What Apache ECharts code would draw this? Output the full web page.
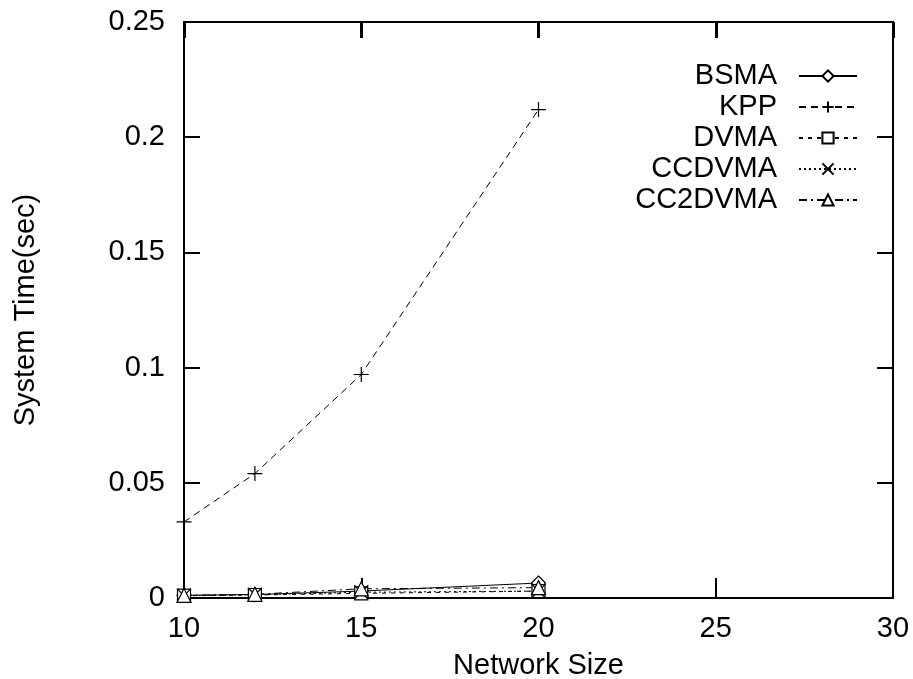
<!DOCTYPE html>
<html><head><meta charset="utf-8">
<script src="https://cdn.jsdelivr.net/npm/echarts@6/dist/echarts.min.js"></script>
<style>html,body{margin:0;padding:0;background:#fff}#c{width:913px;height:679px}</style>
</head><body><div id="c"></div>
<script>
var networkSizes = [10, 12, 15, 20];
var seriesNames = ['BSMA', 'KPP', 'DVMA', 'CCDVMA', 'CC2DVMA'];
var bsma    = [0.0012, 0.0015, 0.0030, 0.0065];
var kpp     = [0.033, 0.054, 0.097, 0.212];
var dvma    = [0.0010, 0.0013, 0.0020, 0.0030];
var ccdvma  = [0.0010, 0.0014, 0.0025, 0.0030];
var cc2dvma = [0.0011, 0.0016, 0.0040, 0.0045];

var FONT = 'Liberation Sans';
var plusPath = 'path://M0,5 L10,5 M5,0 L5,10';
var crossPath = 'path://M0,0 L10,10 M10,0 L0,10';
function pts(arr){ return networkSizes.map(function(x,i){return [x, arr[i]];}); }

var defs = [
  {name:'BSMA', data:bsma, symbol:'diamond', size:14, line:'solid'},
  {name:'KPP', data:kpp, symbol:plusPath, size:15, line:[7,5]},
  {name:'DVMA', data:dvma, symbol:'rect', size:13, line:[4,5]},
  {name:'CCDVMA', data:ccdvma, symbol:crossPath, size:14, line:[2,3]},
  {name:'CC2DVMA', data:cc2dvma, symbol:'triangle', size:14, line:[8,4,2,4]}
];

var series = defs.map(function(d){
  return {
    name:d.name, type:'line', data:pts(d.data), symbol:d.symbol, symbolSize:d.size,
    showAllSymbol:true,
    lineStyle:{color:'#000', width:1, type:d.line},
    itemStyle:{color:'#fff', borderColor:'#000', borderWidth:1.2},
    emphasis:{disabled:true}, animation:false
  };
});

var option = {
  backgroundColor:'#fff',
  animation:false,
  grid:{left:184, right:20, top:22, bottom:81, show:false, outerBoundsMode:'none'},
  legend:{
    data:seriesNames, orient:'vertical', right:50, top:56, align:'right',
    itemWidth:58, itemHeight:14, itemGap:1,
    textStyle:{fontFamily:FONT, fontSize:29, lineHeight:30, color:'#000', padding:[0,17,0,0]},
    inactiveColor:'#000'
  },
  xAxis:[{
    type:'value', min:10, max:30, interval:5, position:'bottom',
    name:'Network Size', nameLocation:'middle', nameGap:53,
    nameTextStyle:{fontFamily:FONT, fontSize:29, color:'#000'},
    axisLine:{show:true, onZero:false, lineStyle:{color:'#000', width:2}},
    axisTick:{show:true, inside:true, length:20, lineStyle:{color:'#000', width:2}},
    axisLabel:{fontFamily:FONT, fontSize:29, color:'#000', margin:16},
    splitLine:{show:false}
  },{
    type:'value', min:10, max:30, interval:5, position:'top',
    axisLine:{show:true, onZero:false, lineStyle:{color:'#000', width:2}},
    axisTick:{show:true, inside:true, length:16, lineStyle:{color:'#000', width:3}},
    axisLabel:{show:false}, splitLine:{show:false}
  }],
  yAxis:[{
    type:'value', min:0, max:0.25, interval:0.05, position:'left',
    name:'System Time(sec)', nameLocation:'middle', nameGap:144, nameRotate:90,
    nameTextStyle:{fontFamily:FONT, fontSize:29, color:'#000'},
    axisLine:{show:true, onZero:false, lineStyle:{color:'#000', width:2}},
    axisTick:{show:true, inside:true, length:16, lineStyle:{color:'#000', width:2}},
    axisLabel:{fontFamily:FONT, fontSize:29, color:'#000', margin:19,
      formatter:function(v){return String(+v.toFixed(2));}},
    splitLine:{show:false}
  },{
    type:'value', min:0, max:0.25, interval:0.05, position:'right',
    axisLine:{show:true, onZero:false, lineStyle:{color:'#000', width:2}},
    axisTick:{show:true, inside:true, length:16, lineStyle:{color:'#000', width:2}},
    axisLabel:{show:false}, splitLine:{show:false}
  }],
  series:series
};
var chart = echarts.init(document.getElementById('c'), null, {renderer:'canvas'});
chart.setOption(option);
</script></body></html>
